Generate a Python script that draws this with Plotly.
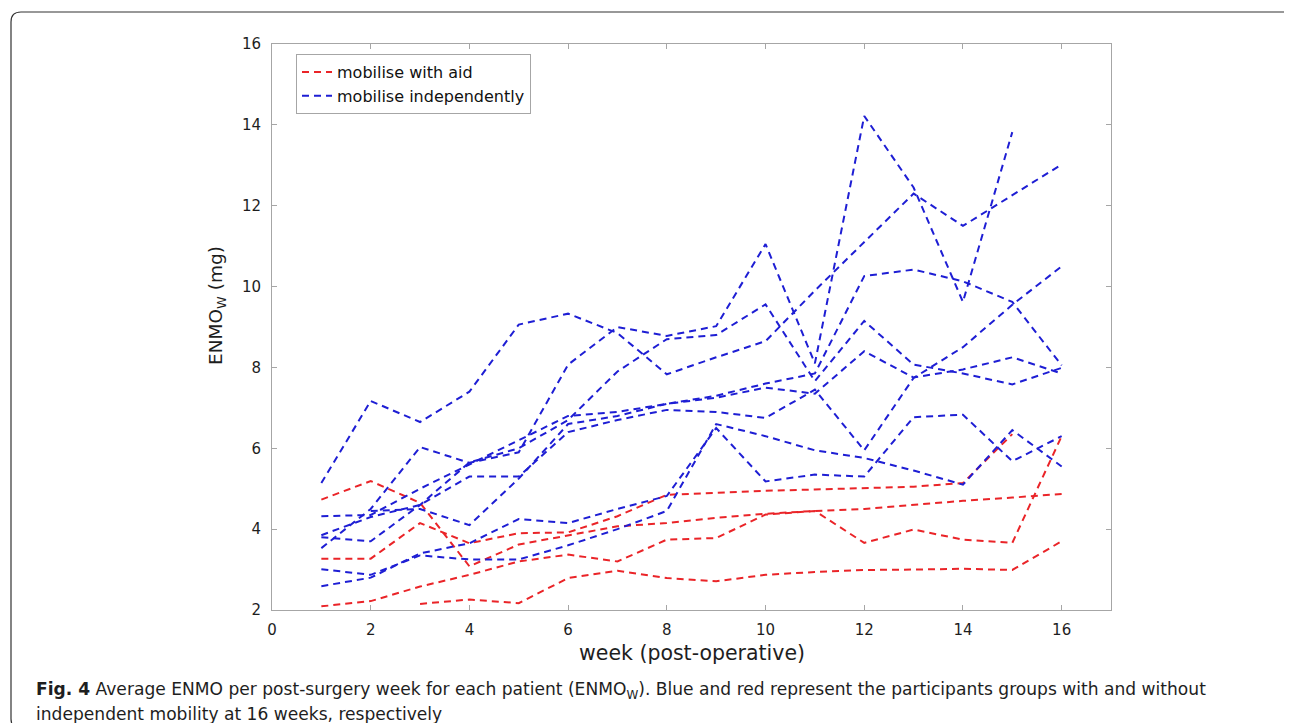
import plotly.graph_objects as go

# ---------------- data ----------------
weeks = list(range(1, 17))

# mobilise with aid (red)
aid_p1 = [4.73, 5.19, 4.65, 3.08, 3.62, 3.85, 4.07, 4.15, 4.28, 4.38, 4.45, 4.50, 4.60, 4.70, 4.78, 4.87]
aid_p2 = [3.27, 3.27, 4.15, 3.65, 3.90, 3.92, 4.32, 4.85, 4.90, 4.95, 4.98, 5.02, 5.05, 5.14, 6.35, None]
aid_p3 = [2.09, 2.22, 2.58, 2.87, 3.20, 3.37, 3.20, 3.74, 3.78, 4.36, 4.45, 3.66, 3.99, 3.74, 3.66, 6.30]
aid_p4 = [None, None, 2.15, 2.26, 2.17, 2.79, 2.97, 2.79, 2.71, 2.87, 2.94, 2.99, 3.00, 3.02, 2.99, 3.70]

# mobilise independently (blue)
ind_p1 = [5.14, 7.17, 6.65, 7.40, 9.06, 9.33, 8.85, 7.83, 8.25, 8.65, 9.90, 11.10, 12.30, 11.50, 12.25, 13.02]
ind_p2 = [3.53, 4.50, 6.03, 5.64, 5.90, 8.07, 9.00, 8.78, 9.02, 11.05, 8.10, 14.22, 12.45, 9.62, 13.82, None]
ind_p3 = [4.32, 4.35, 5.00, 5.60, 6.20, 6.80, 6.90, 7.10, 7.30, 7.60, 7.85, 10.26, 10.42, 10.13, 9.62, 8.05]
ind_p4 = [3.85, 4.30, 4.60, 5.30, 5.30, 6.40, 6.70, 6.95, 6.90, 6.75, 7.45, 5.95, 7.74, 8.50, 9.55, 10.50]
ind_p5 = [None, 4.45, 4.50, 4.10, 5.25, 6.60, 6.80, 7.10, 7.25, 7.50, 7.35, 8.40, 7.75, 7.95, 8.25, 7.85]
ind_p6 = [3.80, 3.70, 4.60, 5.65, 6.00, 6.70, 7.90, 8.70, 8.80, 9.56, 7.66, 9.15, 8.07, 7.85, 7.58, 7.99]
ind_p7 = [3.01, 2.87, 3.35, 3.25, 3.25, 3.60, 4.00, 4.45, 6.60, 6.30, 5.95, 5.76, 5.45, 5.10, 6.45, 5.55]
ind_p8 = [2.59, 2.80, 3.40, 3.65, 4.25, 4.15, 4.50, 4.82, 6.50, 5.18, 5.35, 5.30, 6.77, 6.83, 5.68, 6.30]

aid_series = [aid_p1, aid_p2, aid_p3, aid_p4]
ind_series = [ind_p1, ind_p2, ind_p3, ind_p4, ind_p5, ind_p6, ind_p7, ind_p8]

x_ticks = [0, 2, 4, 6, 8, 10, 12, 14, 16]
y_ticks = [2, 4, 6, 8, 10, 12, 14, 16]

RED = "rgb(234,36,40)"
BLUE = "rgb(30,30,212)"
DASH = "7px,5px"
FONT = "DejaVu Sans, Liberation Sans, Arial, sans-serif"
TXT = "#1e1e1e"

fig = go.Figure()


def add_group(series, color, name):
    for i, vals in enumerate(series):
        xs = [w for w, v in zip(weeks, vals) if v is not None]
        ys = [v for v in vals if v is not None]
        fig.add_trace(go.Scatter(
            x=xs, y=ys, mode="lines", name=name,
            line=dict(color=color, width=2, dash=DASH),
            showlegend=(i == 0), legendgroup=name, hoverinfo="skip"))


add_group(aid_series, RED, "mobilise with aid")
add_group(ind_series, BLUE, "mobilise independently")

# plot area in pixels
L, R, T, B = 264, 1103, 36, 602
W, H = 1292, 723
PW, PH = R - L, B - T


def xp(px):
    return (px - L) / PW


def yp(py):
    return (B - py) / PH


axis_common = dict(showline=True, linecolor="#a6a6a6", linewidth=1, mirror="ticks",
                   ticks="inside", ticklen=5, tickcolor="#a6a6a6", showgrid=False,
                   zeroline=False, tickfont=dict(family=FONT, size=15, color=TXT))

fig.update_layout(
    width=W, height=H,
    margin=dict(l=L, r=W - R, t=T, b=H - B),
    paper_bgcolor="white", plot_bgcolor="white",
    font=dict(family=FONT, color=TXT),
    xaxis=dict(range=[0, 17], tickvals=x_ticks, ticklabelstandoff=6, **axis_common),
    yaxis=dict(range=[2, 16], tickvals=y_ticks, ticklabelstandoff=7, **axis_common),
    legend=dict(x=xp(288), y=yp(46), xanchor="left", yanchor="top",
                bgcolor="white", bordercolor="#a6a6a6", borderwidth=1,
                font=dict(family=FONT, size=16, color="#111111"),
                itemwidth=30, tracegroupgap=0),
    showlegend=True,
)

# axis titles
fig.add_annotation(xref="paper", yref="paper", x=xp(684), y=yp(645),
                   text="week (post-operative)", showarrow=False,
                   font=dict(family=FONT, size=20.5, color=TXT),
                   xanchor="center", yanchor="middle")
fig.add_annotation(xref="paper", yref="paper", x=xp(209), y=yp(298),
                   text="ENMO<sub>W</sub> (mg)", showarrow=False, textangle=-90,
                   font=dict(family=FONT, size=18.5, color=TXT),
                   xanchor="center", yanchor="middle")

# caption
fig.add_annotation(xref="paper", yref="paper", x=xp(26), y=yp(682),
                   text="<b>Fig. 4</b> Average ENMO per post-surgery week for each patient (ENMO<sub>W</sub>). "
                        "Blue and red represent the participants groups with and without",
                   showarrow=False, align="left",
                   font=dict(family=FONT, size=17.1, color=TXT),
                   xanchor="left", yanchor="middle")
fig.add_annotation(xref="paper", yref="paper", x=xp(26), y=yp(706),
                   text="independent mobility at 16 weeks, respectively",
                   showarrow=False, align="left",
                   font=dict(family=FONT, size=17.1, color=TXT),
                   xanchor="left", yanchor="middle")

# rounded card border around the figure
x0, x1, y0, y1, rad = 3, 1288, 4, 721, 10
pts = (f"M {xp(x0 + rad)},{yp(y0)} L {xp(x1 - rad)},{yp(y0)} "
       f"Q {xp(x1)},{yp(y0)} {xp(x1)},{yp(y0 + rad)} L {xp(x1)},{yp(y1 - rad)} "
       f"Q {xp(x1)},{yp(y1)} {xp(x1 - rad)},{yp(y1)} L {xp(x0 + rad)},{yp(y1)} "
       f"Q {xp(x0)},{yp(y1)} {xp(x0)},{yp(y1 - rad)} L {xp(x0)},{yp(y0 + rad)} "
       f"Q {xp(x0)},{yp(y0)} {xp(x0 + rad)},{yp(y0)} Z")
fig.add_shape(type="path", path=pts, xref="paper", yref="paper",
              line=dict(color="#333333", width=1.2), fillcolor="rgba(0,0,0,0)", layer="below")

fig.write_html("out.html")
